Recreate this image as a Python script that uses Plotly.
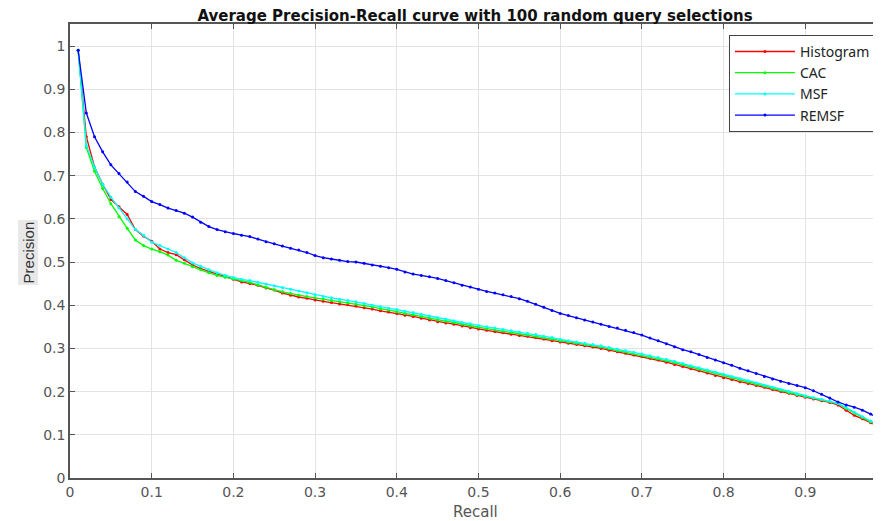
import plotly.graph_objects as go

# recall levels 0.01 .. 0.99
recall = [round(0.01 * i, 2) for i in range(1, 100)]

histogram = [
    0.99, 0.79, 0.72, 0.68, 0.645, 0.628, 0.61, 0.575, 0.56, 0.548,
    0.53, 0.522, 0.517, 0.505, 0.493, 0.485, 0.478, 0.472, 0.466, 0.46,
    0.454, 0.45, 0.446, 0.44, 0.435, 0.428, 0.423, 0.419, 0.416, 0.412,
    0.409, 0.406, 0.403, 0.401, 0.398, 0.394, 0.391, 0.387, 0.384, 0.381,
    0.377, 0.374, 0.37, 0.366, 0.362, 0.359, 0.356, 0.352, 0.348, 0.345,
    0.342, 0.339, 0.336, 0.333, 0.33, 0.328, 0.325, 0.322, 0.318, 0.315,
    0.312, 0.309, 0.306, 0.303, 0.3, 0.296, 0.292, 0.289, 0.285, 0.281,
    0.277, 0.273, 0.268, 0.263, 0.258, 0.253, 0.248, 0.243, 0.237, 0.232,
    0.228, 0.223, 0.219, 0.214, 0.21, 0.205, 0.2, 0.196, 0.191, 0.187,
    0.183, 0.179, 0.175, 0.169, 0.157, 0.145, 0.137, 0.128, 0.119,
]

cac = [
    0.99, 0.765, 0.71, 0.67, 0.635, 0.605, 0.578, 0.551, 0.538, 0.53,
    0.524, 0.516, 0.504, 0.497, 0.489, 0.482, 0.475, 0.469, 0.465, 0.461,
    0.457, 0.453, 0.447, 0.441, 0.436, 0.431, 0.427, 0.423, 0.42, 0.417,
    0.414, 0.411, 0.408, 0.405, 0.403, 0.399, 0.396, 0.392, 0.389, 0.385,
    0.381, 0.378, 0.374, 0.37, 0.366, 0.363, 0.36, 0.356, 0.352, 0.349,
    0.346, 0.343, 0.34, 0.337, 0.334, 0.331, 0.328, 0.325, 0.322, 0.318,
    0.315, 0.312, 0.309, 0.306, 0.303, 0.299, 0.295, 0.292, 0.288, 0.284,
    0.28, 0.276, 0.272, 0.267, 0.262, 0.257, 0.252, 0.247, 0.242, 0.237,
    0.232, 0.227, 0.222, 0.217, 0.213, 0.208, 0.203, 0.198, 0.193, 0.189,
    0.185, 0.181, 0.177, 0.172, 0.161, 0.15, 0.14, 0.13, 0.121,
]

msf = [
    0.99, 0.77, 0.72, 0.68, 0.65, 0.625, 0.6, 0.575, 0.562, 0.546,
    0.538, 0.53, 0.522, 0.51, 0.498, 0.49, 0.482, 0.475, 0.469, 0.464,
    0.46, 0.457, 0.453, 0.449, 0.445, 0.441, 0.437, 0.433, 0.429, 0.424,
    0.42, 0.417, 0.414, 0.411, 0.408, 0.404, 0.4, 0.397, 0.393, 0.39,
    0.386, 0.383, 0.379, 0.375, 0.371, 0.368, 0.364, 0.36, 0.357, 0.353,
    0.35, 0.347, 0.344, 0.341, 0.338, 0.335, 0.332, 0.328, 0.325, 0.321,
    0.318, 0.315, 0.312, 0.309, 0.306, 0.302, 0.298, 0.295, 0.291, 0.287,
    0.283, 0.279, 0.275, 0.27, 0.265, 0.26, 0.255, 0.25, 0.245, 0.24,
    0.235, 0.23, 0.225, 0.22, 0.215, 0.21, 0.205, 0.2, 0.195, 0.19,
    0.186, 0.182, 0.178, 0.173, 0.163, 0.152, 0.142, 0.132, 0.123,
]

remsf = [
    0.99, 0.845, 0.79, 0.755, 0.725, 0.705, 0.685, 0.663, 0.652, 0.64,
    0.633, 0.625, 0.619, 0.613, 0.604, 0.592, 0.582, 0.575, 0.57, 0.566,
    0.562, 0.559, 0.553, 0.547, 0.542, 0.537, 0.532, 0.528, 0.522, 0.515,
    0.51, 0.507, 0.504, 0.501, 0.5, 0.497, 0.493, 0.49, 0.487, 0.483,
    0.477, 0.472, 0.469, 0.466, 0.462, 0.457, 0.452, 0.446, 0.442, 0.437,
    0.432, 0.428, 0.424, 0.42, 0.415, 0.409, 0.402, 0.395, 0.388, 0.381,
    0.376, 0.371, 0.366, 0.361, 0.356, 0.351, 0.347, 0.342, 0.337, 0.331,
    0.324, 0.318, 0.311, 0.304, 0.297, 0.292, 0.286, 0.279, 0.273, 0.267,
    0.261, 0.254, 0.248, 0.242, 0.235, 0.229, 0.224, 0.219, 0.214, 0.209,
    0.202, 0.194, 0.185, 0.176, 0.169, 0.164, 0.157, 0.148, 0.138,
]

series = [
    ("Histogram", histogram, "#ff0000"),
    ("CAC", cac, "#00ff00"),
    ("MSF", msf, "#00ffff"),
    ("REMSF", remsf, "#0000ff"),
]

fig = go.Figure()

for name, vals, col in series:
    fig.add_trace(go.Scatter(
        x=recall, y=vals, name=name, mode="lines+markers",
        line=dict(color=col, width=1.3),
        marker=dict(color=col, size=3),
    ))

axis_style = dict(
    showline=True, linecolor="#555555", linewidth=1.5, mirror="ticks",
    ticks="inside", ticklen=5, tickcolor="#555555",
    showgrid=True, gridcolor="#e3e3e3", gridwidth=1,
    zeroline=False, automargin=False,
    tickfont=dict(family="DejaVu Sans", size=14, color="#555555"),
)

fig.update_xaxes(
    range=[0, 0.9915], tickvals=[i / 10 for i in range(10)],
    ticktext=["0", "0.1", "0.2", "0.3", "0.4", "0.5", "0.6", "0.7", "0.8", "0.9"],
    **axis_style,
)
fig.update_yaxes(
    range=[0, 1.051], tickvals=[i / 10 for i in range(11)],
    ticktext=["0", "0.1", "0.2", "0.3", "0.4", "0.5", "0.6", "0.7", "0.8", "0.9", "1"],
    **axis_style,
)

# x label
fig.add_annotation(
    text="Recall", xref="paper", yref="paper", x=0.5, y=-0.075,
    yanchor="middle", showarrow=False,
    font=dict(family="DejaVu Sans", size=15, color="#555555"),
)

# y label with its grey background box
fig.add_annotation(
    text="Precision", xref="paper", yref="paper", x=-0.0642, y=0.498,
    textangle=-90, showarrow=False, bgcolor="#e8e8e8",
    font=dict(family="Liberation Sans Narrow, Liberation Sans", size=15, color="#333333"),
)

# page has an 8px body margin, so the figure is sized / shifted to match
fig.update_layout(
    width=873, height=513,
    margin=dict(l=62, r=1, t=16, b=43),
    paper_bgcolor="white", plot_bgcolor="white",
    title=dict(
        text="<b>Average Precision-Recall curve with 100 random query selections</b>",
        x=0.5, xref="paper", xanchor="center", y=0.9854, yanchor="middle",
        font=dict(family="DejaVu Sans", size=15, color="#111111"),
    ),
    legend=dict(
        x=0.995, xanchor="right", y=0.976, yanchor="top",
        bgcolor="white", bordercolor="#444444", borderwidth=1,
        font=dict(family="Noto Sans", size=14, color="#222222"),
        tracegroupgap=0, itemwidth=60,
    ),
)

fig.write_html("out.html")
